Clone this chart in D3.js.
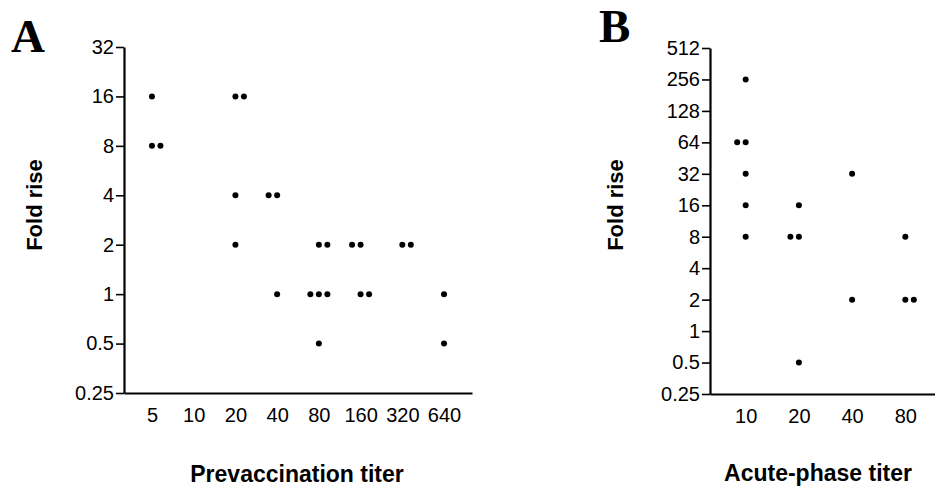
<!DOCTYPE html>
<html>
<head>
<meta charset="utf-8">
<script src="https://cdn.jsdelivr.net/npm/d3@7"></script>
<style>
  body { margin: 0; background: #fff; }
  svg { display: block; }
  .axis path, .axis line { stroke: #000; }
  .axis text { font-family: "Liberation Sans", Arial, sans-serif; font-size: 20px; fill: #000; }
  .title { font-family: "Liberation Sans", Arial, sans-serif; font-weight: bold; fill: #000; }
  .letter { font-family: "Liberation Serif", "Times New Roman", serif; font-weight: bold; font-size: 47px; fill: #000; }
</style>
</head>
<body>
<div id="chart"></div>
<script>
// panel A: prevaccination titer vs fold rise
var titerA = [5, 5, 5, 20, 20, 20, 20, 40, 40, 40, 80, 80, 80, 80, 80, 80, 160, 160, 160, 160, 320, 320, 640, 640];
var foldA  = [16, 8, 8, 16, 16, 4, 2, 4, 4, 1, 2, 2, 1, 1, 1, 0.5, 2, 2, 1, 1, 2, 2, 1, 0.5];
var dodgeA = [0, 0, 1, 0, 1, 0, 0, -1, 0, 0, 0, 1, -1, 0, 1, 0, -1, 0, 0, 1, 0, 1, 0, 0];
var xTicksA = [5, 10, 20, 40, 80, 160, 320, 640];
var yTicksA = [0.25, 0.5, 1, 2, 4, 8, 16, 32];

// panel B: acute-phase titer vs fold rise
var titerB = [10, 10, 10, 10, 10, 10, 20, 20, 20, 20, 40, 40, 80, 80, 80];
var foldB  = [256, 64, 64, 32, 16, 8, 16, 8, 8, 0.5, 32, 2, 8, 2, 2];
var dodgeB = [0, -1, 0, 0, 0, 0, 0, -1, 0, 0, 0, 0, 0, 0, 1];
var xTicksB = [10, 20, 40, 80];
var yTicksB = [0.25, 0.5, 1, 2, 4, 8, 16, 32, 64, 128, 256, 512];

var w = 935, h = 488;
var dotGap = 8.5;

var svg = d3.select("#chart").append("svg")
    .attr("width", w)
    .attr("height", h);

function panel(opt) {
    var x = d3.scalePoint().domain(opt.xTicks).range([opt.left, opt.right]).padding(0.67);
    var y = d3.scaleLog().base(2).domain([opt.yTicks[0], opt.yTicks[opt.yTicks.length - 1]])
        .range([opt.bottom, opt.top]);

    var g = svg.append("g");

    // y axis
    g.append("g")
        .attr("class", "axis")
        .attr("transform", "translate(" + opt.left + ",0)")
        .call(d3.axisLeft(y).tickValues(opt.yTicks).tickFormat(d3.format("~g"))
            .tickSize(8).tickSizeOuter(0).tickPadding(2))
        .call(function (s) {
            s.select(".domain").attr("stroke-width", 2.2);
            s.selectAll(".tick line").attr("stroke-width", 1.6);
        });

    // x axis, labels only
    g.append("g")
        .attr("class", "axis")
        .attr("transform", "translate(0," + opt.bottom + ")")
        .call(d3.axisBottom(x).tickSize(0).tickSizeOuter(0).tickPadding(15))
        .call(function (s) {
            s.select(".domain").attr("stroke-width", 2.2);
        });

    var pts = opt.titer.map(function (t, i) {
        return {t: t, f: opt.fold[i], k: opt.dodge[i]};
    });

    g.append("g").selectAll("circle")
        .data(pts)
        .enter().append("circle")
        .attr("cx", function (d) { return x(d.t) + d.k * dotGap; })
        .attr("cy", function (d) { return y(d.f); })
        .attr("r", 3)
        .attr("fill", "#000");

    g.append("text")
        .attr("class", "title")
        .attr("transform", "translate(" + opt.yTitleX + "," + opt.yTitleY + ") rotate(-90)")
        .attr("text-anchor", "middle")
        .style("font-size", "22px")
        .text("Fold rise");

    g.append("text")
        .attr("class", "title")
        .attr("x", opt.xTitleX)
        .attr("y", opt.xTitleY)
        .attr("text-anchor", "middle")
        .style("font-size", "23px")
        .text(opt.xTitle);

    g.append("text")
        .attr("class", "letter")
        .attr("x", opt.letterX)
        .attr("y", opt.letterY)
        .text(opt.letter);
}

panel({
    titer: titerA, fold: foldA, dodge: dodgeA, xTicks: xTicksA, yTicks: yTicksA,
    left: 124, right: 472, top: 47, bottom: 393,
    yTitleX: 42, yTitleY: 205, xTitleX: 297, xTitleY: 482, xTitle: "Prevaccination titer",
    letter: "A", letterX: 11, letterY: 52
});

panel({
    titer: titerB, fold: foldB, dodge: dodgeB, xTicks: xTicksB, yTicks: yTicksB,
    left: 710, right: 941, top: 48, bottom: 394,
    yTitleX: 623, yTitleY: 205, xTitleX: 818, xTitleY: 481, xTitle: "Acute-phase titer",
    letter: "B", letterX: 599, letterY: 42
});
</script>
</body>
</html>
